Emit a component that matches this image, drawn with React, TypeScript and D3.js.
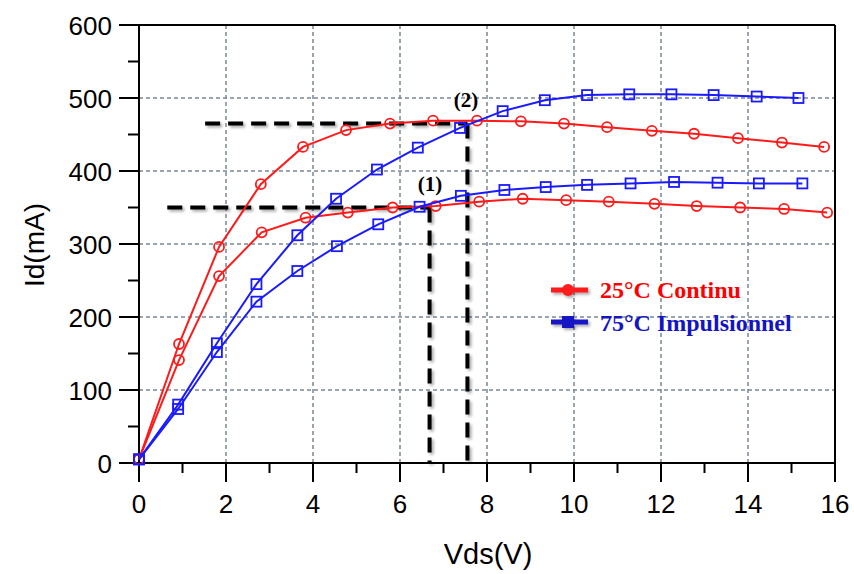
import React from "react";
import * as d3 from "d3";

const redHighV = [0, 0.92, 1.84, 2.8, 3.77, 4.76, 5.77, 6.76, 7.77, 8.78, 9.77, 10.76, 11.79, 12.76, 13.77, 14.78, 15.75];
const redHighI = [5, 163, 296, 382, 433, 456, 465, 469, 469, 468, 465, 460, 455, 451, 445, 439, 433];
const redLowV = [0, 0.92, 1.84, 2.82, 3.83, 4.8, 5.83, 6.82, 7.82, 8.82, 9.82, 10.8, 11.85, 12.82, 13.82, 14.83, 15.82];
const redLowI = [5, 141, 256, 316, 336, 343, 350, 352, 358, 362, 360, 358, 355, 352, 350, 348, 343];
const blueHighV = [0, 0.9, 1.79, 2.7, 3.64, 4.53, 5.47, 6.41, 7.38, 8.36, 9.33, 10.3, 11.27, 12.24, 13.21, 14.2, 15.16];
const blueHighI = [5, 80, 164, 245, 312, 362, 402, 432, 459, 482, 497, 504, 505, 505, 504, 502, 500];
const blueLowV = [0, 0.9, 1.79, 2.7, 3.64, 4.55, 5.5, 6.45, 7.4, 8.4, 9.35, 10.3, 11.3, 12.3, 13.3, 14.25, 15.25];
const blueLowI = [5, 74, 152, 221, 263, 297, 327, 351, 366, 374, 378, 381, 383, 385, 384, 383, 383];

const xTicks = [0, 2, 4, 6, 8, 10, 12, 14, 16];
const yTicks = [0, 100, 200, 300, 400, 500, 600];
const legendLabels = ["25°C Continu", "75°C Impulsionnel"];

const RED = "#ff1a1a";
const BLUE = "#1a1aff";
const LEG_BLUE = "#1414c4";
const SANS = "Liberation Sans, Arial, sans-serif";
const SERIF = "Liberation Serif, Times New Roman, serif";

export default function App() {
  const x = d3.scaleLinear().domain([0, 16]).range([139, 835]);
  const y = d3.scaleLinear().domain([0, 600]).range([463, 25]);
  const line = d3
    .line<[number, number]>()
    .x((d) => x(d[0]))
    .y((d) => y(d[1]));
  const zip = (a: number[], b: number[]) => a.map((v, i) => [v, b[i]] as [number, number]);
  const reds = [zip(redHighV, redHighI), zip(redLowV, redLowI)];
  const blues = [zip(blueHighV, blueHighI), zip(blueLowV, blueLowI)];
  const minorX = d3.range(1, 16, 2);
  const minorY = d3.range(50, 600, 100);
  const gridC = "#7a8898";

  return (
    <svg width={854} height={574} style={{ position: "absolute", left: 0, top: 0 }}>
      <defs>
        <filter id="sh" x="-20%" y="-20%" width="140%" height="140%">
          <feGaussianBlur in="SourceAlpha" stdDeviation="1.5" />
          <feOffset dx="1.5" dy="2" result="b" />
          <feComponentTransfer>
            <feFuncA type="linear" slope="0.35" />
          </feComponentTransfer>
          <feMerge>
            <feMergeNode />
            <feMergeNode in="SourceGraphic" />
          </feMerge>
        </filter>
      </defs>
      <rect width={854} height={574} fill="#fff" />
      {/* grid */}
      {xTicks.slice(1, -1).map((t) => (
        <line key={"gx" + t} x1={x(t)} x2={x(t)} y1={y(600)} y2={y(0)} stroke={gridC} strokeWidth={1.5} strokeDasharray="4,3" />
      ))}
      {yTicks.slice(1, -1).map((t) => (
        <line key={"gy" + t} x1={x(0)} x2={x(16)} y1={y(t)} y2={y(t)} stroke={gridC} strokeWidth={1.5} strokeDasharray="4,3" />
      ))}
      {/* frame */}
      <line x1={x(0)} x2={x(16)} y1={y(600)} y2={y(600)} stroke="#000" strokeWidth={2} />
      <line x1={x(16)} x2={x(16)} y1={y(600)} y2={y(0)} stroke="#000" strokeWidth={2} />
      <line x1={x(0)} x2={x(16)} y1={y(0)} y2={y(0)} stroke="#000" strokeWidth={2} />
      <line x1={x(0)} x2={x(0)} y1={y(600)} y2={y(0)} stroke="#000" strokeWidth={2} />
      {/* ticks */}
      {xTicks.map((t) => (
        <line key={"tx" + t} x1={x(t)} x2={x(t)} y1={y(0)} y2={y(0) + 19} stroke="#000" strokeWidth={2} />
      ))}
      {minorX.map((t) => (
        <line key={"mx" + t} x1={x(t)} x2={x(t)} y1={y(0)} y2={y(0) + 10} stroke="#000" strokeWidth={2} />
      ))}
      {yTicks.map((t) => (
        <line key={"ty" + t} x1={x(0) - 20} x2={x(0)} y1={y(t)} y2={y(t)} stroke="#000" strokeWidth={2} />
      ))}
      {minorY.map((t) => (
        <line key={"my" + t} x1={x(0) - 11} x2={x(0)} y1={y(t)} y2={y(t)} stroke="#000" strokeWidth={2} />
      ))}
      {xTicks.map((t) => (
        <text key={"lx" + t} x={x(t)} y={y(0) + 50} textAnchor="middle" fontFamily={SANS} fontSize={26} fill="#000">
          {t}
        </text>
      ))}
      {yTicks.map((t) => (
        <text key={"ly" + t} x={112} y={y(t) + 9.5} textAnchor="end" fontFamily={SANS} fontSize={26} fill="#000">
          {t}
        </text>
      ))}
      <text x={488} y={564} textAnchor="middle" fontFamily={SANS} fontSize={29}>
        Vds(V)
      </text>
      <text transform={`translate(44,245) rotate(-90)`} textAnchor="middle" fontFamily={SANS} fontSize={28}>
        Id(mA)
      </text>
      {/* dashed guides */}
      <g filter="url(#sh)" stroke="#000" strokeWidth={4} strokeDasharray="15,8" fill="none">
        <line x1={x(0.65)} x2={x(6.68)} y1={y(350)} y2={y(350)} />
        <line x1={x(6.68)} x2={x(6.68)} y1={y(350)} y2={y(0)} />
        <line x1={x(1.52)} x2={x(7.55)} y1={y(465)} y2={y(465)} />
        <line x1={x(7.55)} x2={x(7.55)} y1={y(465)} y2={y(0)} />
      </g>
      {/* series */}
      {reds.map((s, i) => (
        <g key={"r" + i}>
          <path d={line(s) || ""} fill="none" stroke={RED} strokeWidth={2} />
          {s.map((d, j) => (
            <circle key={j} cx={x(d[0])} cy={y(d[1])} r={5} fill="#fff" fillOpacity={0} stroke={RED} strokeWidth={1.8} />
          ))}
        </g>
      ))}
      {blues.map((s, i) => (
        <g key={"b" + i}>
          <path d={line(s) || ""} fill="none" stroke={BLUE} strokeWidth={2} />
          {s.map((d, j) => (
            <rect key={j} x={x(d[0]) - 5} y={y(d[1]) - 5} width={10} height={10} fill="#fff" fillOpacity={0} stroke={BLUE} strokeWidth={1.8} />
          ))}
        </g>
      ))}
      {/* annotations */}
      <text x={430} y={191} textAnchor="middle" fontFamily={SERIF} fontWeight="bold" fontSize={21}>
        (1)
      </text>
      <text x={466} y={107} textAnchor="middle" fontFamily={SERIF} fontWeight="bold" fontSize={21}>
        (2)
      </text>
      {/* legend */}
      <g filter="url(#sh)">
        <line x1={551} x2={588} y1={290} y2={290} stroke={RED} strokeWidth={5} />
        <circle cx={568} cy={290} r={6} fill={RED} />
        <line x1={551} x2={588} y1={322} y2={322} stroke={LEG_BLUE} strokeWidth={5} />
        <rect x={562} y={316} width={12} height={12} fill={LEG_BLUE} />
      </g>
      <text x={600} y={298} fontFamily={SERIF} fontWeight="bold" fontSize={24} fill="#ff0000">
        {legendLabels[0]}
      </text>
      <text x={600} y={331} fontFamily={SERIF} fontWeight="bold" fontSize={24} fill={LEG_BLUE}>
        {legendLabels[1]}
      </text>
    </svg>
  );
}
